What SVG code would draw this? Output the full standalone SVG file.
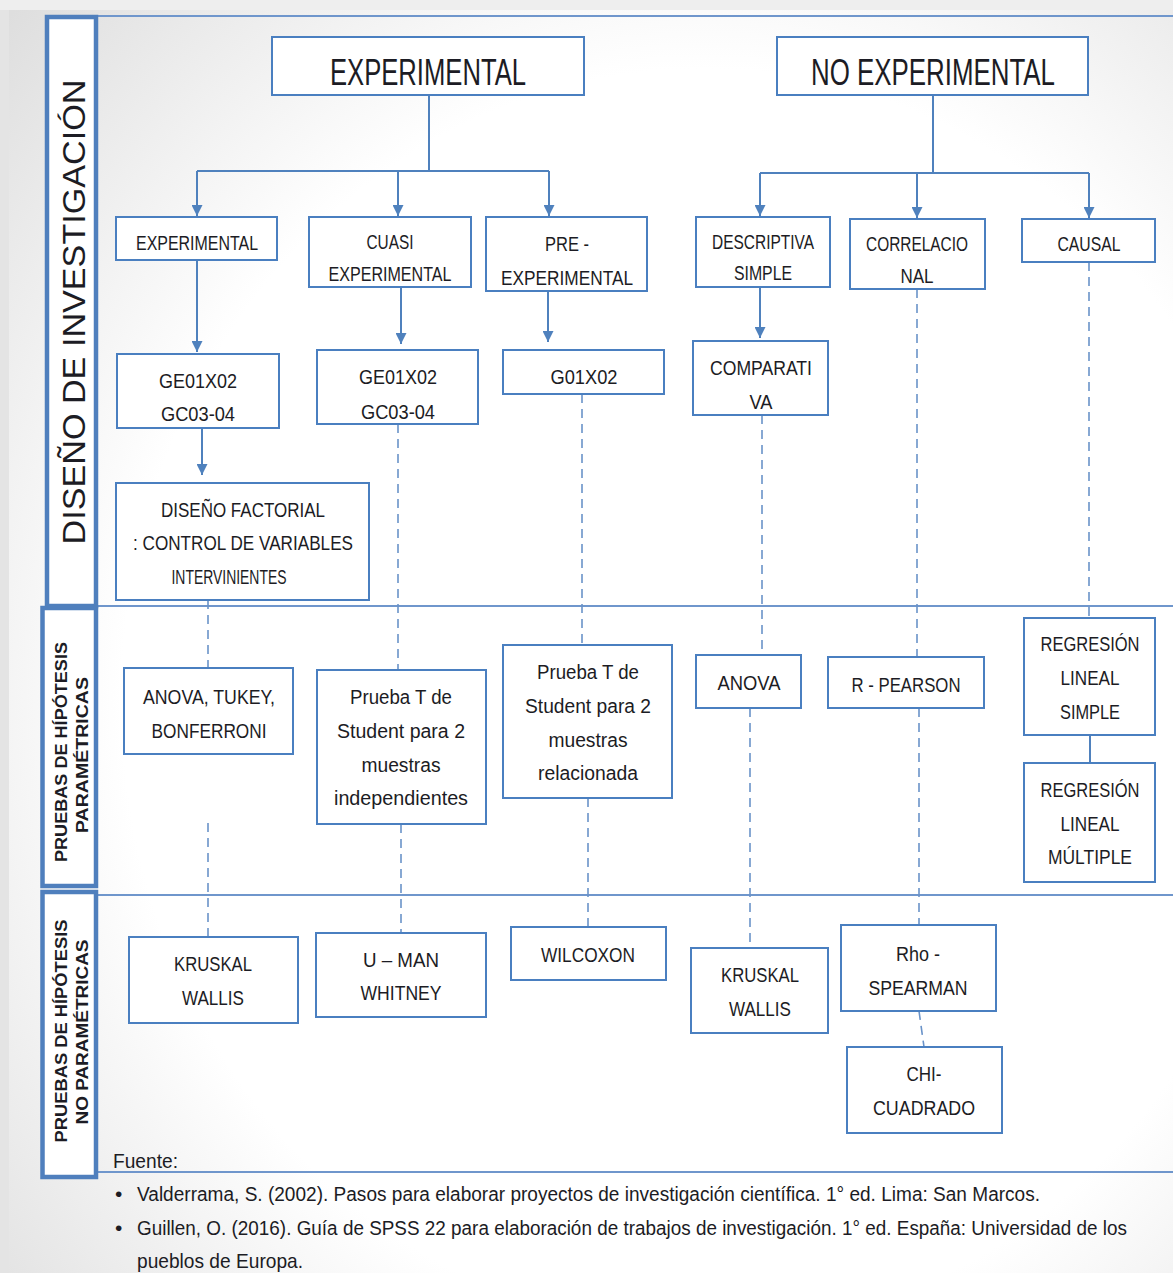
<svg xmlns="http://www.w3.org/2000/svg" width="1173" height="1273" viewBox="0 0 1173 1273">
<style>
  .nd { fill:#ffffff; stroke:#4a7fc0; stroke-width:2; }
  .side { fill:#ffffff; stroke:#4f7fbd; stroke-width:4.5; }
  .t { font-family:"Liberation Sans Narrow","Liberation Sans",Arial,sans-serif; font-size:20px; fill:#1c1c24; text-anchor:middle; }
  .big { font-size:36px; }
  .vl { font-family:"Liberation Sans",Arial,sans-serif; fill:#1c1c24; text-anchor:middle; }
  .ft { font-family:"Liberation Sans Narrow","Liberation Sans",Arial,sans-serif; font-size:21px; fill:#1c1c24; }
  .sep { stroke:#6f96cc; stroke-width:2; fill:none; }
  .ln { stroke:#4f81bd; stroke-width:2; fill:none; }
  .dash { stroke:#6a93c9; stroke-width:1.6; fill:none; stroke-dasharray:9 6; }
</style>
<defs>
  <radialGradient id="bg" cx="0.6" cy="0.55" r="0.8">
    <stop offset="0.62" stop-color="#ffffff"/>
    <stop offset="1" stop-color="#dedede"/>
  </radialGradient>
  <marker id="ah" viewBox="0 0 10 10" refX="10" refY="5" markerWidth="11" markerHeight="11" markerUnits="userSpaceOnUse" orient="auto">
    <path d="M0,0 L10,5 L0,10 z" fill="#4f81bd"/>
  </marker>
</defs>
<rect x="0" y="0" width="1173" height="1273" fill="url(#bg)"/>
<rect x="0" y="0" width="9" height="1273" fill="#e4e4e4"/>
<rect x="0" y="0" width="1173" height="10" fill="#eeeeee"/>

<g id="separators">
  <path class="sep" d="M98 16 H1173"/>
  <path class="sep" d="M98 606 H1173"/>
  <path class="sep" d="M98 895 H1173"/>
  <path class="sep" d="M98 1172 H1173"/>
</g>

<g id="side-diseno">
  <rect class="side" x="47" y="17" width="49" height="589"/>
  <text class="vl" font-size="31" transform="translate(85,312) rotate(-90)" textLength="465" lengthAdjust="spacingAndGlyphs">DISEÑO DE INVESTIGACIÓN</text>
</g>
<g id="side-parametricas">
  <rect class="side" x="42.5" y="608" width="53.5" height="278"/>
  <text class="vl" font-size="16" font-weight="bold" transform="translate(67,752) rotate(-90)" textLength="220" lengthAdjust="spacingAndGlyphs">PRUEBAS DE HÍPÓTESIS</text>
  <text class="vl" font-size="16" font-weight="bold" transform="translate(88,755) rotate(-90)" textLength="156" lengthAdjust="spacingAndGlyphs">PARAMÉTRICAS</text>
</g>
<g id="side-noparametricas">
  <rect class="side" x="42.5" y="892" width="53.5" height="285"/>
  <text class="vl" font-size="16" font-weight="bold" transform="translate(67,1031) rotate(-90)" textLength="223" lengthAdjust="spacingAndGlyphs">PRUEBAS DE HÍPÓTESIS</text>
  <text class="vl" font-size="16" font-weight="bold" transform="translate(88,1032) rotate(-90)" textLength="185" lengthAdjust="spacingAndGlyphs">NO PARAMÉTRICAS</text>
</g>

<g id="connectors">
  <path class="ln" d="M429 95 V171 M197 171 H549 M933 95 V173 M760 173 H1089 M1090 735 V763"/>
  <path class="ln" marker-end="url(#ah)" d="M197 171 V216"/>
  <path class="ln" marker-end="url(#ah)" d="M398 171 V216"/>
  <path class="ln" marker-end="url(#ah)" d="M549 171 V216"/>
  <path class="ln" marker-end="url(#ah)" d="M760 173 V216"/>
  <path class="ln" marker-end="url(#ah)" d="M917 173 V218"/>
  <path class="ln" marker-end="url(#ah)" d="M1089 173 V218"/>
  <path class="ln" marker-end="url(#ah)" d="M197 260 V352"/>
  <path class="ln" marker-end="url(#ah)" d="M401 287 V344"/>
  <path class="ln" marker-end="url(#ah)" d="M548 291 V342"/>
  <path class="ln" marker-end="url(#ah)" d="M760 287 V338"/>
  <path class="ln" marker-end="url(#ah)" d="M202 428 V475"/>
  <path class="dash" d="M208 600 V668 M208 823 V937 M398 424 V670 M401 824 V933 M582 394 V645 M588 798 V927 M762 415 V655 M750 708 V948 M917 289 V657 M919 708 V925 M919 1011 L924 1047 M1089 262 V618"/>
</g>

<g id="n-experimental-top"><rect class="nd" x="272" y="37" width="312" height="58"/><text class="t big" x="428" y="85" textLength="196" lengthAdjust="spacingAndGlyphs">EXPERIMENTAL</text></g>
<g id="n-noexperimental-top"><rect class="nd" x="777" y="37" width="311" height="58"/><text class="t big" x="933" y="85" textLength="244" lengthAdjust="spacingAndGlyphs">NO EXPERIMENTAL</text></g>

<g id="n-experimental"><rect class="nd" x="116" y="217" width="161" height="43"/><text class="t" x="197" y="250" textLength="122" lengthAdjust="spacingAndGlyphs">EXPERIMENTAL</text></g>
<g id="n-cuasi"><rect class="nd" x="309" y="217" width="162" height="70"/><text class="t" x="390" y="249" textLength="47" lengthAdjust="spacingAndGlyphs">CUASI</text><text class="t" x="390" y="281" textLength="123" lengthAdjust="spacingAndGlyphs">EXPERIMENTAL</text></g>
<g id="n-pre"><rect class="nd" x="486" y="217" width="161" height="74"/><text class="t" x="567" y="251" textLength="44" lengthAdjust="spacingAndGlyphs">PRE -</text><text class="t" x="567" y="285" textLength="132" lengthAdjust="spacingAndGlyphs">EXPERIMENTAL</text></g>
<g id="n-descriptiva"><rect class="nd" x="696" y="217" width="134" height="70"/><text class="t" x="763" y="249" textLength="102" lengthAdjust="spacingAndGlyphs">DESCRIPTIVA</text><text class="t" x="763" y="280" textLength="58" lengthAdjust="spacingAndGlyphs">SIMPLE</text></g>
<g id="n-correlacional"><rect class="nd" x="850" y="219" width="135" height="70"/><text class="t" x="917" y="251" textLength="102" lengthAdjust="spacingAndGlyphs">CORRELACIO</text><text class="t" x="917" y="283" textLength="33" lengthAdjust="spacingAndGlyphs">NAL</text></g>
<g id="n-causal"><rect class="nd" x="1022" y="219" width="133" height="43"/><text class="t" x="1089" y="251" textLength="63" lengthAdjust="spacingAndGlyphs">CAUSAL</text></g>

<g id="n-ge1"><rect class="nd" x="117" y="354" width="162" height="74"/><text class="t" x="198" y="388" textLength="78" lengthAdjust="spacingAndGlyphs">GE01X02</text><text class="t" x="198" y="421" textLength="74" lengthAdjust="spacingAndGlyphs">GC03-04</text></g>
<g id="n-ge2"><rect class="nd" x="317" y="350" width="161" height="74"/><text class="t" x="398" y="384" textLength="78" lengthAdjust="spacingAndGlyphs">GE01X02</text><text class="t" x="398" y="419" textLength="74" lengthAdjust="spacingAndGlyphs">GC03-04</text></g>
<g id="n-g01"><rect class="nd" x="503" y="350" width="161" height="44"/><text class="t" x="584" y="384" textLength="67" lengthAdjust="spacingAndGlyphs">G01X02</text></g>
<g id="n-comparativa"><rect class="nd" x="693" y="341" width="135" height="74"/><text class="t" x="761" y="375" textLength="102" lengthAdjust="spacingAndGlyphs">COMPARATI</text><text class="t" x="761" y="409" textLength="23" lengthAdjust="spacingAndGlyphs">VA</text></g>

<g id="n-factorial"><rect class="nd" x="116" y="483" width="253" height="117"/><text class="t" x="243" y="517" textLength="164" lengthAdjust="spacingAndGlyphs">DISEÑO FACTORIAL</text><text class="t" x="243" y="550" textLength="220" lengthAdjust="spacingAndGlyphs">: CONTROL DE VARIABLES</text><text class="t" x="229" y="584" textLength="115" lengthAdjust="spacingAndGlyphs">INTERVINIENTES</text></g>

<g id="n-anova-tukey"><rect class="nd" x="124" y="668" width="169" height="86"/><text class="t" x="209" y="704" textLength="132" lengthAdjust="spacingAndGlyphs">ANOVA, TUKEY,</text><text class="t" x="209" y="738" textLength="115" lengthAdjust="spacingAndGlyphs">BONFERRONI</text></g>
<g id="n-t-independientes"><rect class="nd" x="317" y="670" width="169" height="154"/><text class="t" x="401" y="704" textLength="102" lengthAdjust="spacingAndGlyphs">Prueba T de</text><text class="t" x="401" y="738" textLength="128" lengthAdjust="spacingAndGlyphs">Student para 2</text><text class="t" x="401" y="772" textLength="79" lengthAdjust="spacingAndGlyphs">muestras</text><text class="t" x="401" y="805" textLength="134" lengthAdjust="spacingAndGlyphs">independientes</text></g>
<g id="n-t-relacionada"><rect class="nd" x="503" y="645" width="169" height="153"/><text class="t" x="588" y="679" textLength="102" lengthAdjust="spacingAndGlyphs">Prueba T de</text><text class="t" x="588" y="713" textLength="126" lengthAdjust="spacingAndGlyphs">Student para 2</text><text class="t" x="588" y="747" textLength="79" lengthAdjust="spacingAndGlyphs">muestras</text><text class="t" x="588" y="780" textLength="100" lengthAdjust="spacingAndGlyphs">relacionada</text></g>
<g id="n-anova"><rect class="nd" x="696" y="655" width="105" height="53"/><text class="t" x="749" y="690" textLength="63" lengthAdjust="spacingAndGlyphs">ANOVA</text></g>
<g id="n-pearson"><rect class="nd" x="828" y="657" width="156" height="51"/><text class="t" x="906" y="692" textLength="109" lengthAdjust="spacingAndGlyphs">R - PEARSON</text></g>
<g id="n-reg-simple"><rect class="nd" x="1024" y="618" width="131" height="117"/><text class="t" x="1090" y="651" textLength="99" lengthAdjust="spacingAndGlyphs">REGRESIÓN</text><text class="t" x="1090" y="685" textLength="59" lengthAdjust="spacingAndGlyphs">LINEAL</text><text class="t" x="1090" y="719" textLength="60" lengthAdjust="spacingAndGlyphs">SIMPLE</text></g>
<g id="n-reg-multiple"><rect class="nd" x="1024" y="763" width="131" height="119"/><text class="t" x="1090" y="797" textLength="99" lengthAdjust="spacingAndGlyphs">REGRESIÓN</text><text class="t" x="1090" y="831" textLength="59" lengthAdjust="spacingAndGlyphs">LINEAL</text><text class="t" x="1090" y="864" textLength="84" lengthAdjust="spacingAndGlyphs">MÚLTIPLE</text></g>

<g id="n-kruskal1"><rect class="nd" x="129" y="937" width="169" height="86"/><text class="t" x="213" y="971" textLength="78" lengthAdjust="spacingAndGlyphs">KRUSKAL</text><text class="t" x="213" y="1005" textLength="62" lengthAdjust="spacingAndGlyphs">WALLIS</text></g>
<g id="n-uman"><rect class="nd" x="316" y="933" width="170" height="84"/><text class="t" x="401" y="967" textLength="76" lengthAdjust="spacingAndGlyphs">U – MAN</text><text class="t" x="401" y="1000" textLength="81" lengthAdjust="spacingAndGlyphs">WHITNEY</text></g>
<g id="n-wilcoxon"><rect class="nd" x="511" y="927" width="155" height="53"/><text class="t" x="588" y="962" textLength="94" lengthAdjust="spacingAndGlyphs">WILCOXON</text></g>
<g id="n-kruskal2"><rect class="nd" x="691" y="948" width="137" height="85"/><text class="t" x="760" y="982" textLength="78" lengthAdjust="spacingAndGlyphs">KRUSKAL</text><text class="t" x="760" y="1016" textLength="62" lengthAdjust="spacingAndGlyphs">WALLIS</text></g>
<g id="n-rho"><rect class="nd" x="841" y="925" width="155" height="86"/><text class="t" x="918" y="961" textLength="44" lengthAdjust="spacingAndGlyphs">Rho -</text><text class="t" x="918" y="995" textLength="99" lengthAdjust="spacingAndGlyphs">SPEARMAN</text></g>
<g id="n-chi"><rect class="nd" x="847" y="1047" width="155" height="86"/><text class="t" x="924" y="1081" textLength="35" lengthAdjust="spacingAndGlyphs">CHI-</text><text class="t" x="924" y="1115" textLength="102" lengthAdjust="spacingAndGlyphs">CUADRADO</text></g>

<g id="footer">
  <text class="ft" x="113" y="1168" textLength="65" lengthAdjust="spacingAndGlyphs">Fuente:</text>
  <text class="ft" x="115" y="1201">•</text>
  <text class="ft" transform="translate(137,1201) scale(0.86,1)" x="0" y="0" textLength="1050" lengthAdjust="spacingAndGlyphs">Valderrama, S. (2002). Pasos para elaborar proyectos de investigación científica. 1° ed. Lima: San Marcos.</text>
  <text class="ft" x="115" y="1235">•</text>
  <text class="ft" transform="translate(137,1235) scale(0.86,1)" x="0" y="0" textLength="1151" lengthAdjust="spacingAndGlyphs">Guillen, O. (2016). Guía de SPSS 22 para elaboración de trabajos de investigación. 1° ed. España: Universidad de los</text>
  <text class="ft" x="137" y="1268" textLength="166" lengthAdjust="spacingAndGlyphs">pueblos de Europa.</text>
</g>
</svg>
